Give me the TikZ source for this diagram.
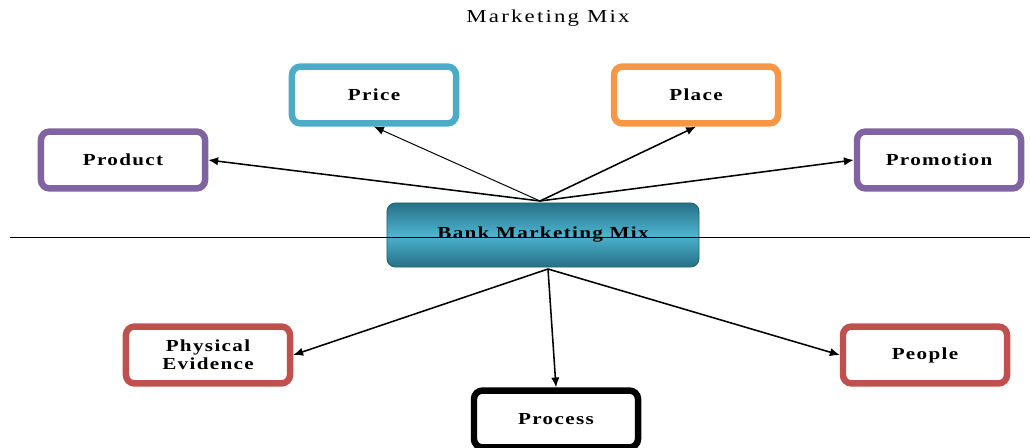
\documentclass[tikz,border=0pt]{standalone}
\usepackage{fontspec}
\setmainfont{Liberation Serif}[FakeStretch=1.25,LetterSpace=8]
\usetikzlibrary{positioning,arrows.meta}
\definecolor{mixteal}{HTML}{4BACC6}
\definecolor{mixorange}{HTML}{F79646}
\definecolor{mixpurple}{HTML}{8064A2}
\definecolor{mixred}{HTML}{C0504D}
\definecolor{bankdark}{HTML}{2A7D95}
\definecolor{banklight}{HTML}{4DB3CF}

\begin{document}
\begin{tikzpicture}[
x=0.025cm, y=-0.025cm,
every node/.style = {font=\bfseries\fontsize{12}{13}\selectfont, align=center},
mixbox/.style = {shape=rectangle, rounded corners=6pt, draw=#1, line width=4.6pt,
  fill=white, minimum width=4.1cm, minimum height=1.42cm, inner sep=2pt},
bankbox/.style = {shape=rectangle, rounded corners=6pt, draw=bankdark!80!black, line width=0.6pt,
  top color=bankdark!90!black, bottom color=bankdark!90!black, middle color=banklight,
  minimum width=7.8cm, minimum height=1.6cm},
link/.style = {-{Latex[length=7pt,width=6pt]}, line width=1.1pt},
]
\useasboundingbox (0,0) rectangle (1030,447);

\node[font=\fontsize{13}{14}\selectfont\addfontfeatures{LetterSpace=12}] (title) at (548,18) {Marketing Mix};

% centre
\node[bankbox] (bank) at (543,235) {Bank Marketing Mix};
\coordinate (lineL) at (10,237);
\coordinate (lineR) at (1030,237);
\draw[line width=0.6pt] (lineL) -- (lineR);

% upper row
\node[mixbox=mixteal] (price) at (374,95) {Price};
\node[mixbox=mixorange] (place) at (696,95) {Place};
\node[mixbox=mixpurple] (product) at (123,160) {Product};
\node[mixbox=mixpurple] (promotion) at (939,160) {Promotion};

% lower row
\node[mixbox=mixred] (evidence) at (208,355) {Physical\\Evidence};
\node[mixbox=mixred] (people) at (925,355) {People};
\node[mixbox=black] (process) at (556,419) {Process};

\coordinate (hubtop) at (540,201);
\coordinate (hubbot) at (548,269);

\draw[link] (hubtop) -- (product.east);
\draw[link, line width=0.7pt] (hubtop) -- (price.south);
\draw[link] (hubtop) -- (place.south);
\draw[link] (hubtop) -- (promotion.west);
\draw[link] (hubbot) -- (evidence.east);
\draw[link] (hubbot) -- (process.north);
\draw[link] (hubbot) -- (people.west);
\end{tikzpicture}
\end{document}
